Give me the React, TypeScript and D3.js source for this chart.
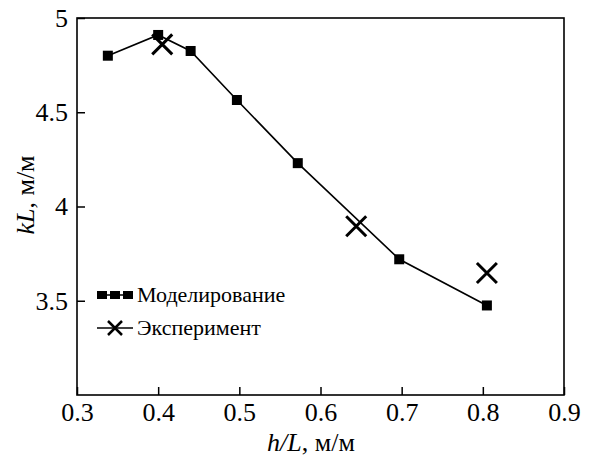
import { useEffect, useRef } from 'react';
import * as d3 from 'd3';

// h/L vs kL, modelling and experiment
const modelX = [0.338, 0.4, 0.44, 0.497, 0.572, 0.697, 0.805];
const modelY = [4.8, 4.91, 4.825, 4.565, 4.23, 3.72, 3.475];
const expX = [0.405, 0.644, 0.805];
const expY = [4.86, 3.895, 3.647];
const xTicks = [0.3, 0.4, 0.5, 0.6, 0.7, 0.8, 0.9];
const yTicks = [3.5, 4, 4.5, 5];
const legendLabels = ['Моделирование', 'Эксперимент'];

const App = () => {
  const ref = useRef<SVGSVGElement>(null!);

  useEffect(() => {
    const width = 590;
    const height = 458;
    const m = { left: 77, right: 26, top: 18, bottom: 63 };
    const font = 'Liberation Serif, serif';
    const svg = d3
      .select(ref.current)
      .attr('width', width)
      .attr('height', height)
      .attr('font-family', font);

    const x = d3.scaleLinear().domain([0.3, 0.9]).range([m.left, width - m.right]);
    const y = d3.scaleLinear().domain([3, 5]).range([height - m.bottom, m.top]);

    const xAxis = d3
      .axisBottom(x)
      .tickValues(xTicks)
      .tickSizeInner(-8)
      .tickSizeOuter(0)
      .tickPadding(8)
      .tickFormat(d => String(d));
    const yAxis = d3
      .axisLeft(y)
      .tickValues(yTicks)
      .tickSizeInner(-8)
      .tickSizeOuter(0)
      .tickPadding(9)
      .tickFormat(d => String(d));

    const gx = svg.append('g').attr('transform', `translate(0, ${height - m.bottom})`).call(xAxis);
    const gy = svg.append('g').attr('transform', `translate(${m.left}, 0)`).call(yAxis);
    [gx, gy].forEach(g => {
      g.attr('font-family', font).attr('font-size', 26);
      g.select('.domain').remove();
      g.selectAll('line').attr('stroke', '#000').attr('stroke-width', 1.5);
      g.selectAll('text').attr('fill', '#000').style('font-family', font).attr('font-size', 26);
    });

    svg
      .append('rect')
      .attr('x', m.left)
      .attr('y', m.top)
      .attr('width', width - m.left - m.right)
      .attr('height', height - m.top - m.bottom)
      .attr('fill', 'none')
      .attr('stroke', '#000')
      .attr('stroke-width', 1.6);

    // axis titles
    const xt = svg
      .append('text')
      .attr('x', 311)
      .attr('y', 451)
      .attr('text-anchor', 'middle')
      .attr('font-size', 26);
    xt.append('tspan').attr('font-style', 'italic').text('h/L');
    xt.append('tspan').text(', м/м');

    const yt = svg
      .append('text')
      .attr('transform', `translate(34, 195) rotate(-90)`)
      .attr('text-anchor', 'middle')
      .attr('font-size', 26);
    yt.append('tspan').attr('font-style', 'italic').text('kL');
    yt.append('tspan').text(', м/м');

    // model line + squares
    const pts = modelX.map((v, i) => [v, modelY[i]] as [number, number]);
    const line = d3
      .line<[number, number]>()
      .x(d => x(d[0]))
      .y(d => y(d[1]));
    svg
      .append('path')
      .datum(pts)
      .attr('d', line)
      .attr('fill', 'none')
      .attr('stroke', '#000')
      .attr('stroke-width', 1.6);
    const sq = 10;
    svg
      .selectAll('rect.pt')
      .data(pts)
      .enter()
      .append('rect')
      .attr('class', 'pt')
      .attr('x', d => x(d[0]) - sq / 2)
      .attr('y', d => y(d[1]) - sq / 2)
      .attr('width', sq)
      .attr('height', sq)
      .attr('fill', '#000');

    // experiment crosses
    const cr = 10;
    const crossPath = (cx: number, cy: number, r: number) =>
      `M${cx - r},${cy - r}L${cx + r},${cy + r}M${cx - r},${cy + r}L${cx + r},${cy - r}`;
    svg
      .selectAll('path.cross')
      .data(expX.map((v, i) => [v, expY[i]]))
      .enter()
      .append('path')
      .attr('class', 'cross')
      .attr('d', d => crossPath(x(d[0]), y(d[1]), cr))
      .attr('stroke', '#000')
      .attr('stroke-width', 3)
      .attr('fill', 'none');

    // legend
    const lg = svg.append('g');
    const lx = 97;
    const lw = 36;
    lg.append('line')
      .attr('x1', lx)
      .attr('x2', lx + lw)
      .attr('y1', 295)
      .attr('y2', 295)
      .attr('stroke', '#000')
      .attr('stroke-width', 1.6);
    [0, 1, 2].forEach(k => {
      lg.append('rect')
        .attr('x', lx + k * 13)
        .attr('y', 291)
        .attr('width', 10)
        .attr('height', 8)
        .attr('fill', '#000');
    });
    lg.append('line')
      .attr('x1', lx)
      .attr('x2', lx + lw)
      .attr('y1', 328)
      .attr('y2', 328)
      .attr('stroke', '#000')
      .attr('stroke-width', 1.6);
    lg.append('path')
      .attr('d', crossPath(lx + lw / 2, 328, 7))
      .attr('stroke', '#000')
      .attr('stroke-width', 2.5)
      .attr('fill', 'none');
    legendLabels.forEach((t, i) => {
      lg.append('text')
        .attr('x', 137)
        .attr('y', 302 + i * 33)
        .attr('font-size', 22)
        .attr('fill', '#000')
        .text(t);
    });

    return () => {
      ref.current.innerHTML = '';
    };
  }, []);

  return <svg ref={ref} style={{ position: 'absolute', left: 0, top: 0, background: '#fff' }}></svg>;
};

export default App;
